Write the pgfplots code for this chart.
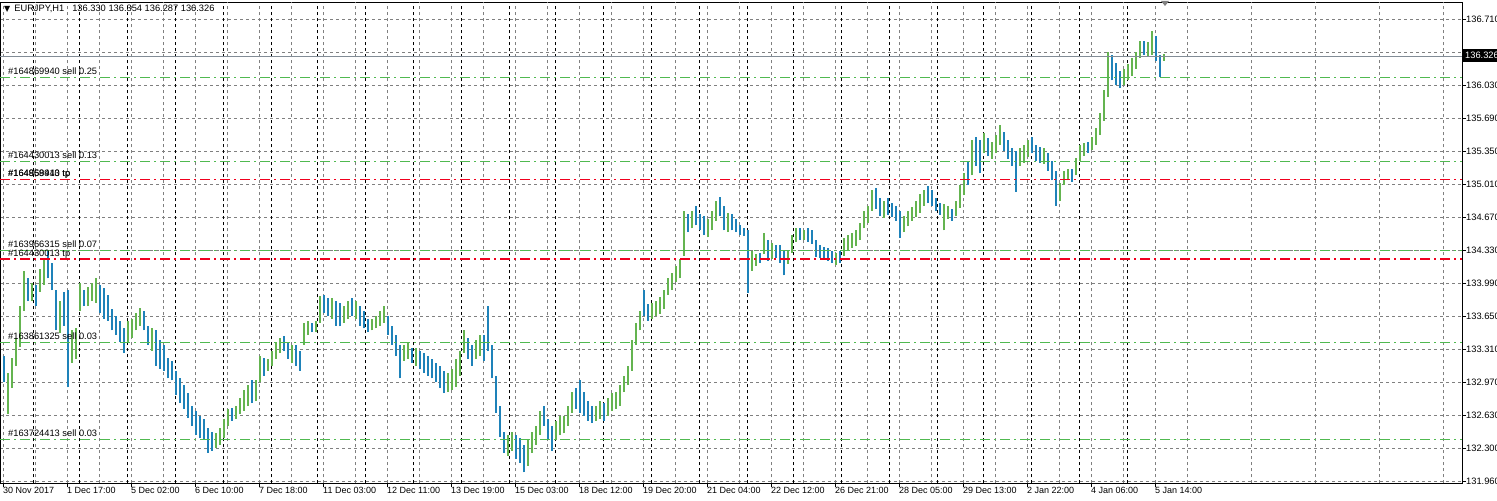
\documentclass[border=0pt]{standalone}
\usepackage{pgfplots}
\pgfplotsset{compat=1.18}
\usepackage{pgfplotstable}
\usepackage{fontspec}
\setmainfont{Liberation Sans}
\newfontfamily\dejavu{DejaVu Sans}

\definecolor{upc}{RGB}{100,180,80}
\definecolor{dnc}{RGB}{30,130,185}
\definecolor{gridc}{RGB}{128,128,128}
\definecolor{ordg}{RGB}{80,185,80}
\definecolor{ordr}{RGB}{240,0,30}
\definecolor{bidc}{RGB}{130,140,150}

\pgfplotstableread{
x lo hi
8 132.655 133.079
12 132.919 133.229
16 133.149 133.433
20 133.343 133.763
24 133.713 134.128
32 133.813 133.998
40 133.908 134.148
44 133.978 134.248
60 133.483 133.813
72 133.179 133.513
76 133.219 133.533
80 133.713 133.998
88 133.763 133.958
92 133.813 133.998
96 133.793 134.048
128 133.393 133.613
132 133.433 133.633
136 133.513 133.693
140 133.563 133.743
152 133.299 133.533
216 132.305 132.455
220 132.335 132.505
224 132.405 132.605
228 132.535 132.705
236 132.605 132.735
240 132.655 132.819
244 132.685 132.899
248 132.735 132.949
256 132.785 132.999
260 132.979 133.249
268 133.099 133.219
272 133.149 133.299
276 133.219 133.393
280 133.279 133.433
292 133.179 133.363
304 133.363 133.593
308 133.463 133.613
316 133.493 133.613
320 133.593 133.868
332 133.633 133.848
344 133.593 133.763
348 133.633 133.813
356 133.633 133.813
372 133.513 133.633
376 133.533 133.663
380 133.563 133.713
384 133.593 133.763
404 133.199 133.363
408 133.219 133.383
416 133.149 133.333
448 132.879 133.079
452 132.899 133.119
456 132.929 133.219
460 133.049 133.299
464 133.279 133.513
476 133.219 133.413
480 133.249 133.463
508 132.223 132.435
512 132.273 132.465
528 132.123 132.385
532 132.253 132.465
536 132.335 132.535
540 132.435 132.685
556 132.385 132.585
560 132.435 132.635
564 132.455 132.635
568 132.535 132.735
572 132.665 132.879
596 132.585 132.735
600 132.605 132.785
608 132.635 132.819
612 132.685 132.869
616 132.705 132.879
620 132.735 132.949
624 132.879 133.049
628 132.949 133.149
632 133.099 133.413
636 133.363 133.593
640 133.513 133.713
652 133.633 133.793
656 133.663 133.813
660 133.683 133.858
664 133.733 133.928
668 133.878 134.048
672 133.928 134.108
676 134.008 134.178
680 134.048 134.248
684 134.278 134.742
692 134.562 134.742
708 134.472 134.662
712 134.542 134.742
716 134.642 134.842
728 134.522 134.722
752 134.128 134.328
756 134.178 134.298
764 134.298 134.512
772 134.248 134.412
788 134.198 134.328
792 134.308 134.492
796 134.422 134.562
804 134.442 134.542
836 134.188 134.308
844 134.278 134.462
848 134.328 134.492
852 134.362 134.512
856 134.382 134.542
860 134.442 134.622
864 134.562 134.742
868 134.622 134.792
872 134.742 134.956
884 134.672 134.842
904 134.522 134.692
908 134.582 134.742
912 134.642 134.782
916 134.682 134.842
920 134.722 134.916
924 134.792 134.956
944 134.542 134.812
948 134.662 134.792
956 134.692 134.842
960 134.772 135.006
964 134.906 135.136
972 135.106 135.470
984 135.336 135.540
992 135.276 135.450
996 135.336 135.520
1000 135.420 135.620
1020 135.206 135.390
1024 135.236 135.420
1028 135.296 135.470
1044 135.226 135.390
1060 134.842 135.026
1064 135.006 135.156
1068 135.056 135.176
1076 135.106 135.290
1080 135.256 135.420
1084 135.306 135.440
1092 135.370 135.500
1096 135.420 135.590
1100 135.520 135.750
1104 135.670 135.983
1108 135.913 136.373
1124 136.033 136.203
1128 136.083 136.253
1132 136.133 136.313
1136 136.203 136.373
1140 136.313 136.493
1148 136.333 136.473
1152 136.343 136.593
1164 136.287 136.354
}\upbars

\pgfplotstableread{
x lo hi
4 132.979 133.249
28 133.813 134.048
36 133.763 133.978
48 134.048 134.328
52 133.928 134.208
56 133.513 133.928
64 133.563 133.908
68 132.929 133.928
84 133.763 133.928
100 133.693 133.978
104 133.633 133.948
108 133.613 133.878
112 133.513 133.733
116 133.463 133.663
120 133.393 133.613
124 133.279 133.533
144 133.513 133.713
148 133.363 133.563
156 133.149 133.513
160 133.119 133.413
164 133.099 133.363
168 133.019 133.229
172 132.999 133.199
176 132.849 133.099
180 132.765 133.019
184 132.705 132.949
188 132.615 132.869
192 132.535 132.735
196 132.435 132.685
200 132.405 132.635
204 132.385 132.605
208 132.253 132.505
212 132.273 132.465
232 132.585 132.715
252 132.765 132.999
264 133.049 133.229
284 133.299 133.453
288 133.219 133.393
296 133.149 133.363
300 133.099 133.299
312 133.493 133.593
324 133.693 133.878
328 133.663 133.848
336 133.563 133.813
340 133.553 133.793
352 133.663 133.848
360 133.563 133.763
364 133.533 133.713
368 133.493 133.633
388 133.463 133.663
392 133.363 133.563
396 133.249 133.463
400 133.019 133.363
412 133.179 133.333
420 133.119 133.299
424 133.079 133.279
428 133.049 133.249
432 133.019 133.219
436 132.979 133.179
440 132.919 133.149
444 132.869 133.099
468 133.219 133.433
472 133.149 133.363
484 133.199 133.463
488 133.299 133.763
492 133.019 133.363
496 132.665 133.049
500 132.415 132.735
504 132.253 132.465
516 132.193 132.435
520 132.153 132.405
524 132.053 132.335
544 132.535 132.735
548 132.385 132.605
552 132.273 132.535
576 132.705 132.919
580 132.665 132.999
584 132.635 132.879
588 132.585 132.785
592 132.565 132.735
604 132.585 132.765
644 133.663 133.928
648 133.613 133.783
688 134.522 134.712
696 134.592 134.792
700 134.542 134.712
704 134.492 134.692
720 134.692 134.886
724 134.542 134.792
732 134.542 134.712
736 134.522 134.662
740 134.492 134.592
744 134.482 134.562
748 133.898 134.542
760 134.208 134.308
768 134.228 134.442
776 134.258 134.392
780 134.208 134.392
784 134.078 134.328
800 134.442 134.562
808 134.422 134.562
812 134.402 134.542
816 134.268 134.442
820 134.258 134.392
824 134.248 134.372
828 134.228 134.362
832 134.208 134.328
840 134.208 134.328
876 134.762 134.976
880 134.692 134.876
888 134.702 134.876
892 134.682 134.822
896 134.642 134.792
900 134.462 134.742
928 134.822 134.996
932 134.792 134.956
936 134.742 134.876
940 134.702 134.822
952 134.642 134.762
968 135.006 135.256
976 135.206 135.500
980 135.126 135.470
988 135.306 135.490
1004 135.356 135.550
1008 135.276 135.470
1012 135.206 135.390
1016 134.936 135.356
1032 135.336 135.500
1036 135.256 135.420
1040 135.236 135.400
1048 135.156 135.336
1052 135.056 135.256
1056 134.792 135.156
1072 135.036 135.176
1088 135.340 135.450
1112 136.083 136.343
1116 136.033 136.263
1120 136.003 136.183
1144 136.343 136.493
1156 136.283 136.543
1160 136.113 136.343
}\dnbars

\begin{document}
\begin{tikzpicture}[x=1bp,y=1bp,font=\fontsize{9.3bp}{10bp}\selectfont]
\useasboundingbox (0,0) rectangle (1497,501);
\begin{axis}[
  at={(0,18)}, anchor=south west,
  width=1462bp, height=481bp, scale only axis,
  xmin=0, xmax=1462, ymin=131.939, ymax=136.884,
  axis line style={black, line width=0.9bp},
  tick style={black, line width=0.8bp},
  tick align=outside, major tick length=4bp,
  xtick pos=bottom, ytick pos=right,
  xtick={3,67,...,1155},
  xticklabels={30 Nov 2017, 1 Dec 17:00, 5 Dec 02:00, 6 Dec 10:00, 7 Dec 18:00, 11 Dec 03:00, 12 Dec 11:00, 13 Dec 19:00, 15 Dec 03:00, 18 Dec 12:00, 19 Dec 20:00, 21 Dec 04:00, 22 Dec 12:00, 26 Dec 21:00, 28 Dec 05:00, 29 Dec 13:00, 2 Jan 22:00, 4 Jan 06:00, 5 Jan 14:00},
  xticklabel style={anchor=north west, inner sep=0pt, xshift=0bp, font=\fontsize{9bp}{10bp}\selectfont},
  ytick={131.96,132.2993,132.6386,132.9779,133.3171,133.6564,133.9957,134.3350,134.6743,135.0136,135.3529,135.6921,136.0314,136.3707,136.7100},
  yticklabels={131.960,132.300,132.630,132.970,133.310,133.650,133.990,134.330,134.670,135.010,135.350,135.690,136.030,,136.710},
  yticklabel pos=right,
  yticklabel style={anchor=west, inner sep=0pt, font=\fontsize{9.3bp}{10bp}\selectfont},
  xmajorgrids, ymajorgrids,
  grid style={gridc, dash pattern=on 3bp off 3bp, line width=0.8bp},
  extra x ticks={35,99,...,1443},
  extra x tick labels={},
  extra x tick style={major tick length=0pt, grid=major},
]
% period separators
\pgfplotsinvokeforeach{33,79,127,175,223,271,317,365,413,461,509,555,603,651,699,747,793,841,889,937,983,1031,1079,1127}{
  \draw[black, dash pattern=on 3bp off 3bp, line width=0.9bp] (axis cs:#1,131.939) -- (axis cs:#1,136.884);
}
% bars
\addplot[draw=none, mark=none, error bars/.cd, y dir=plus, y explicit, error mark=none,
  error bar style={line width=1.6bp, draw=dnc}]
  table[x=x, y=lo, y error expr=\thisrow{hi}-\thisrow{lo}] {\dnbars};
\addplot[draw=none, mark=none, error bars/.cd, y dir=plus, y explicit, error mark=none,
  error bar style={line width=1.6bp, draw=upc}]
  table[x=x, y=lo, y error expr=\thisrow{hi}-\thisrow{lo}] {\upbars};
% bid line
\draw[bidc, line width=0.9bp] (axis cs:0,136.326) -- (axis cs:1462,136.326);
% order lines
\pgfplotsinvokeforeach{136.117,135.247,134.335,133.386,132.389}{
  \draw[ordg, line width=1bp, dash pattern=on 10bp off 4bp on 2bp off 4bp] (axis cs:0,#1) -- (axis cs:1462,#1);
}
\pgfplotsinvokeforeach{135.062,134.246}{
  \draw[draw=ordr, line width=1.2bp, dash pattern=on 10bp off 4bp on 2bp off 4bp] (axis cs:0,#1) -- (axis cs:1462,#1);
}
\node[anchor=base west, inner sep=0pt] at (axis cs:8,136.117) [yshift=3bp] {\#164869940 sell 0.25};
\node[anchor=base west, inner sep=0pt] at (axis cs:8,135.247) [yshift=3bp] {\#164430013 sell 0.13};
\node[anchor=base west, inner sep=0pt] at (axis cs:8,135.062) [yshift=3bp] {\#164869940 tp};
\node[anchor=base west, inner sep=0pt] at (axis cs:8,135.062) [yshift=3bp] {\#164958413 tp};
\node[anchor=base west, inner sep=0pt] at (axis cs:8,134.335) [yshift=3bp] {\#163966315 sell 0.07};
\node[anchor=base west, inner sep=0pt] at (axis cs:8,134.246) [yshift=3bp] {\#164430013 tp};
\node[anchor=base west, inner sep=0pt] at (axis cs:8,133.386) [yshift=3bp] {\#163861325 sell 0.03};
\node[anchor=base west, inner sep=0pt] at (axis cs:8,132.389) [yshift=3bp] {\#163724413 sell 0.03};
\end{axis}
% header
\node[anchor=base west, inner sep=0pt] at (4,489) {{\dejavu\fontsize{8bp}{9bp}\selectfont ▼}\hspace{4bp}EURJPY,H1\hspace{8bp}136.330 136.354 136.287 136.326};
% chart shift marker
\fill[gridc] (1161,500) -- (1169,500) -- (1165,495) -- cycle;
% current price box
\fill[black] (1463,439) rectangle (1497,452);
\node[anchor=west, inner sep=0pt, text=white, font=\fontsize{9.3bp}{10bp}\selectfont] at (1465,445.5) {136.326};
\end{tikzpicture}
\end{document}
